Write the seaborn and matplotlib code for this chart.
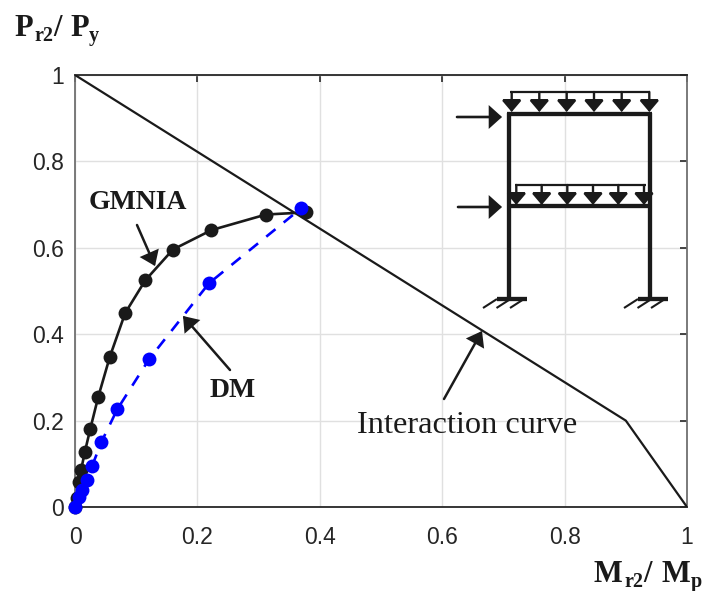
import pandas as pd
import matplotlib
matplotlib.use("Agg")
import matplotlib.pyplot as plt
import seaborn as sns

# values
gmnia_m = [0.0, 0.003, 0.006, 0.010, 0.016, 0.025, 0.038, 0.057, 0.082, 0.115, 0.160, 0.223, 0.312, 0.377]
gmnia_p = [0.0, 0.020, 0.058, 0.086, 0.127, 0.181, 0.255, 0.348, 0.449, 0.525, 0.596, 0.641, 0.677, 0.682]
dm_m = [0.0, 0.007, 0.012, 0.020, 0.028, 0.043, 0.069, 0.121, 0.219, 0.370]
dm_p = [0.0, 0.022, 0.039, 0.062, 0.095, 0.150, 0.226, 0.342, 0.518, 0.692]
curve_m = [0, 0.9, 1]
curve_p = [1, 0.2, 0]
ticks = [0, 0.2, 0.4, 0.6, 0.8, 1]
tick_labels = ['0', '0.2', '0.4', '0.6', '0.8', '1']

sns.set_theme(style="whitegrid")
plt.rcParams['font.family'] = ['Liberation Sans', 'DejaVu Sans']

W, H = 705, 591
fig = plt.figure(figsize=(W / 100, H / 100), dpi=100)
ax = fig.add_axes([75 / W, (H - 507) / H, 612 / W, 432 / H])


def px(x, y):
    # image pixel -> data coords, used for the hand drawn annotations
    return (x - 75) / 612, (507 - y) / 432


def seg(x0, y0, x1, y1, lw):
    a, b = px(x0, y0), px(x1, y1)
    ax.plot([a[0], b[0]], [a[1], b[1]], color='k', lw=lw, solid_capstyle='butt', zorder=6, clip_on=False)


def arrow(x0, y0, x1, y1, lw=1.8, hl=11, hw=16):
    # hl, hw = head length and width in image pixels
    ms = 15
    style = f'-|>,head_length={hl * 0.72 / ms:.3f},head_width={hw * 0.36 / ms:.3f}'
    ax.annotate('', xy=px(x1, y1), xytext=px(x0, y0), zorder=7,
                arrowprops=dict(arrowstyle=style, color='k', lw=lw, shrinkA=0, shrinkB=0,
                                mutation_scale=ms, joinstyle='miter'))


sns.lineplot(x=curve_m, y=curve_p, color='k', lw=1.6, sort=False, ax=ax, zorder=3)
sns.lineplot(data=pd.DataFrame({'m': gmnia_m, 'p': gmnia_p}), x='m', y='p', color='k', lw=1.9, sort=False,
             marker='o', markersize=10, markeredgewidth=0, ax=ax, zorder=4, clip_on=False)
sns.lineplot(data=pd.DataFrame({'m': dm_m, 'p': dm_p}), x='m', y='p', color='#0000ff', lw=1.9, sort=False,
             linestyle=(0, (4.5, 4)), marker='o', markersize=10, markeredgewidth=0, ax=ax, zorder=5, clip_on=False)

ax.set_xlim(0, 1)
ax.set_ylim(0, 1)
ax.set_xticks(ticks, tick_labels)
ax.set_yticks(ticks, tick_labels)
ax.set_xlabel('')
ax.set_ylabel('')
ax.grid(True, color='#e0e0e0', lw=1)
ax.tick_params(axis='both', which='major', direction='in', length=5, width=1.2, color='#262626',
               top=True, right=True, labelsize=16.5, labelcolor='#262626')
ax.tick_params(axis='x', pad=14)
ax.tick_params(axis='y', pad=8)
for name, s in ax.spines.items():
    s.set_color('#262626' if name in ('top', 'bottom') else '#707070')
    s.set_linewidth(1.3)

# annotation text
serif = ['Liberation Serif', 'DejaVu Serif']


def label(x, y, s, size, bold=True):
    fig.text(x / W, 1 - y / H, s, fontsize=size, family=serif, color='k',
             fontweight='bold' if bold else 'normal', ha='left', va='baseline')


label(14, 36, 'P', 22)
label(34, 41, 'r2', 14.5)
label(53, 36, '/', 22)
label(70, 36, 'P', 22)
label(89, 41, 'y', 14.5)
label(594, 582, 'M', 22)
label(624, 587, 'r2', 14.5)
label(643, 582, '/', 22)
label(661, 582, 'M', 22)
label(691, 587, 'p', 14.5)
label(89, 209, 'GMNIA', 20)
label(210, 397, 'DM', 20)
label(357, 433, 'Interaction curve', 23.3, bold=False)

arrow(137, 225, 155, 266)
arrow(230, 370, 183, 316)
arrow(444, 399, 482, 331)

# frame sketch
for xc in [509, 650]:
    seg(xc, 113, xc, 299, 3.1)
for yb in [114, 206]:
    seg(507, yb, 652, yb, 3.1)
for xb in [497, 638]:
    seg(xb, 299, xb + 30, 299, 3.1)
    for d in [0, 13.5, 27]:
        seg(xb - 14 + d, 308, xb + d, 299, 1.5)
seg(510, 92, 650, 92, 1.6)
seg(515, 185, 646, 185, 1.6)
for xa in [511.7, 539.3, 566.7, 594, 621.7, 649.3]:
    arrow(xa, 92, xa, 112, lw=1.7, hl=10, hw=17)
for xa in [516.3, 541.7, 567.3, 593, 618.3, 644]:
    arrow(xa, 185, xa, 205, lw=1.7, hl=10, hw=17)
arrow(457, 117, 502, 117, lw=1.9, hl=10, hw=18)
arrow(458, 207, 502, 207, lw=1.9, hl=10, hw=18)

fig.savefig('out.png', dpi=100)
